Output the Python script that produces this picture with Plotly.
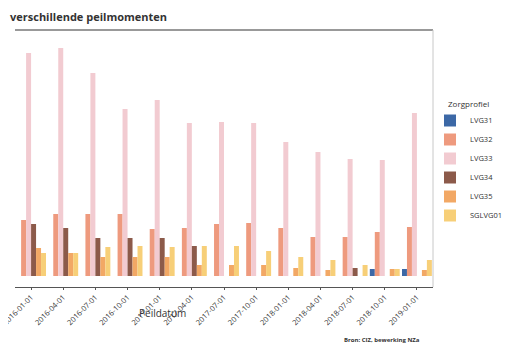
import plotly.graph_objects as go

peildata = ["2016-01-01", "2016-04-01", "2016-07-01", "2016-10-01", "2017-01-01",
            "2017-04-01", "2017-07-01", "2017-10-01", "2018-01-01", "2018-04-01",
            "2018-07-01", "2018-10-01", "2019-01-01"]

lvg31 = [0, 0, 0, 0, 0, 0, 0, 0, 0, 0, 0, 70, 70]
lvg32 = [560, 620, 620, 620, 470, 480, 520, 530, 480, 390, 390, 440, 490]
lvg33 = [2230, 2280, 2030, 1670, 1760, 1530, 1540, 1530, 1340, 1240, 1170, 1160, 1630]
lvg34 = [520, 480, 380, 380, 380, 300, 0, 0, 0, 0, 80, 0, 0]
lvg35 = [280, 230, 190, 190, 190, 110, 110, 110, 80, 60, 0, 70, 60]
sglvg01 = [230, 230, 290, 300, 290, 300, 300, 250, 190, 160, 110, 70, 160]

series = [
    ("LVG31", lvg31, "#3C68A6"),
    ("LVG32", lvg32, "#EE9A7E"),
    ("LVG33", lvg33, "#F2CBD1"),
    ("LVG34", lvg34, "#8C5A4A"),
    ("LVG35", lvg35, "#F2A865"),
    ("SGLVG01", sglvg01, "#F7CF78"),
]

FONT = "Open Sans, Lato, DejaVu Sans, sans-serif"

fig = go.Figure()
for name, vals, col in series:
    fig.add_trace(go.Bar(x=peildata, y=vals, name=name, marker_color=col,
                         marker_line_width=0))

# page has an 8px body margin; figure is sized/offset to compensate
OFF = 8
FIG_W, FIG_H = 510 - OFF, 360 - 2 * OFF
L, R, T, B = 15, 433, 30, 287          # plot area in page pixels
W, H = R - L, B - T

def px(x):
    return (x - L) / W

def py(y):
    return (B - y) / H

fig.update_layout(
    width=FIG_W, height=FIG_H,
    margin=dict(l=L - OFF, r=FIG_W - (R - OFF), t=T - OFF, b=FIG_H - (B - OFF),
                pad=0, autoexpand=False),
    paper_bgcolor="white", plot_bgcolor="white",
    barmode="group", bargap=0.07, bargroupgap=0,
    font=dict(family=FONT, size=8, color="#333333"),
    showlegend=True,
    legend=dict(
        x=px(430), y=py(106), xanchor="left", yanchor="top",
        font=dict(size=7.5, color="#333333"),
        tracegroupgap=0, itemwidth=30,
        bgcolor="rgba(0,0,0,0)",
    ),
    xaxis=dict(
        type="category", range=[-0.5, 12.5], automargin=False,
        showline=True, linecolor="#555555", linewidth=1.2,
        mirror=False,
        ticks="outside", ticklen=2, tickcolor="#555555",
        tickangle=-45, tickfont=dict(size=7.5, color="#333333"),
        showgrid=False, zeroline=False,
    ),
    yaxis=dict(
        range=[-110, 2460], visible=False, showgrid=False, zeroline=False,
        automargin=False,
    ),
    shapes=[
        dict(type="line", xref="paper", yref="paper", x0=0, x1=1, y0=1, y1=1,
             line=dict(color="#777777", width=1.3)),
        dict(type="line", xref="paper", yref="paper", x0=1, x1=1, y0=0, y1=1,
             line=dict(color="#C8C8C8", width=1)),
    ],
    annotations=[
        dict(text="<b>verschillende peilmomenten</b>", xref="paper", yref="paper",
             x=px(8), y=py(17), xanchor="left", yanchor="middle", showarrow=False,
             font=dict(size=11, color="#333333")),
        dict(text="Zorgprofiel", xref="paper", yref="paper",
             x=px(446), y=py(103), xanchor="left", yanchor="middle", showarrow=False,
             font=dict(size=8, color="#333333")),
        dict(text="Peildatum", xref="paper", yref="paper",
             x=px(162), y=py(313), xanchor="center", yanchor="middle", showarrow=False,
             font=dict(size=10, color="#333333")),
        dict(text="<b>Bron: CIZ, bewerking NZa</b>", xref="paper", yref="paper",
             x=px(382), y=py(340), xanchor="center", yanchor="middle", showarrow=False,
             font=dict(size=6, color="#333333")),
    ],
)

fig.write_html("out.html")
